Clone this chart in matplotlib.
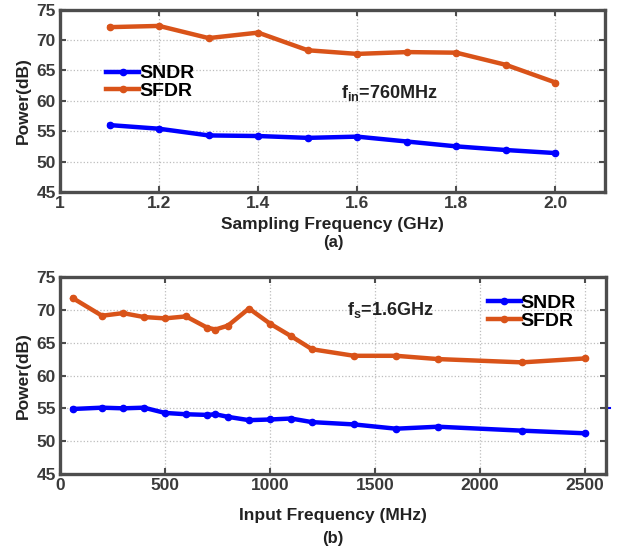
import matplotlib.pyplot as plt
import matplotlib.transforms as mtransforms

plt.rcParams['font.family'] = ['Liberation Sans', 'DejaVu Sans']
plt.rcParams['mathtext.fontset'] = 'custom'
plt.rcParams['mathtext.rm'] = 'Liberation Sans:bold'
plt.rcParams['mathtext.it'] = 'Liberation Sans:bold'

# (a) sweep of sampling frequency, fin = 760 MHz
fs_ghz = [1.1, 1.2, 1.3, 1.4, 1.5, 1.6, 1.7, 1.8, 1.9, 2.0]
sndr_a = [56.0, 55.4, 54.3, 54.2, 53.9, 54.1, 53.3, 52.5, 51.9, 51.4]
sfdr_a = [72.1, 72.3, 70.3, 71.2, 68.3, 67.7, 68.0, 67.9, 65.9, 63.0]

# (b) sweep of input frequency, fs = 1.6 GHz
fin_mhz = [60, 200, 300, 400, 500, 600, 700, 740, 800, 900, 1000, 1100,
           1200, 1400, 1600, 1800, 2200, 2500]
sndr_b = [54.9, 55.1, 55.0, 55.1, 54.3, 54.1, 54.0, 54.1, 53.7, 53.2, 53.3,
          53.45, 52.9, 52.55, 51.9, 52.2, 51.6, 51.2]
sfdr_b = [71.8, 69.1, 69.5, 68.9, 68.7, 69.0, 67.3, 67.0, 67.6, 70.2, 67.9,
          66.0, 64.0, 63.0, 63.0, 62.5, 62.0, 62.6]

yticks = [45, 50, 55, 60, 65, 70, 75]
xticks_a = [1.0, 1.2, 1.4, 1.6, 1.8, 2.0]
xticklabels_a = ['1', '1.2', '1.4', '1.6', '1.8', '2.0']
xticks_b = [0, 500, 1000, 1500, 2000, 2500]

BLUE = '#0000FF'
ORANGE = '#D95319'
SPINE = '#4d4d4d'
TICKC = '#3a3a3a'

fig = plt.figure(figsize=(6.24, 5.48), dpi=100)
ax1 = fig.add_axes([60 / 624, 1 - 192 / 548, 545 / 624, 182.5 / 548])
ax2 = fig.add_axes([60 / 624, 1 - 474 / 548, 546 / 624, 197 / 548])


def style_axes(ax):
    for s in ax.spines.values():
        s.set_color(SPINE)
        s.set_linewidth(2.4)
    ax.tick_params(direction='in', length=4, width=1.5, color=SPINE,
                   top=True, right=True, labelcolor=TICKC, pad=3)
    for lab in ax.get_xticklabels() + ax.get_yticklabels():
        lab.set_fontweight('bold')
        lab.set_fontsize(12.5)
    ax.grid(True, linestyle=':', color='#bdbdbd', linewidth=0.9)
    ax.set_axisbelow(True)
    ax.set_ylim(45, 75)
    ax.set_ylabel('Power(dB)', fontsize=12.5, fontweight='bold',
                  color='#222222', labelpad=4)


line_kw = dict(linewidth=3.2, marker='o', markersize=4.5, solid_joinstyle='round')

# ---- panel (a)
ax1.plot(fs_ghz, sndr_a, color=BLUE, label='SNDR', **line_kw)
ax1.plot(fs_ghz, sfdr_a, color=ORANGE, label='SFDR', **line_kw)
ax1.set_xlim(1.0, 2.1)
ax1.set_xticks(xticks_a)
ax1.set_xticklabels(xticklabels_a)
ax1.set_yticks(yticks)
style_axes(ax1)
ax1.set_xlabel('Sampling Frequency (GHz)', fontsize=12.5, fontweight='bold',
               color='#222222', labelpad=4)
ax1.legend(loc='center left', bbox_to_anchor=(0.085, 0.6), frameon=False,
           handlelength=1.7, handletextpad=0.0, labelspacing=0.0,
           borderpad=0, borderaxespad=0, prop={'weight': 'bold', 'size': 14})
ax1.text(0.515, 0.545, r'$\mathrm{f_{in}}$=760MHz', transform=ax1.transAxes,
         fontsize=13, fontweight='bold', color='#222222', va='center')
fig.text(333 / 624, 1 - 242 / 548, '(a)', ha='center', va='center',
         fontsize=12, fontweight='bold', color='#222222')

# ---- panel (b)
ax2.plot(fin_mhz, sndr_b, color=BLUE, label='SNDR', **line_kw)
ax2.plot(fin_mhz, sfdr_b, color=ORANGE, label='SFDR', **line_kw)
ax2.set_xlim(0, 2600)
ax2.set_xticks(xticks_b)
ax2.set_yticks(yticks)
style_axes(ax2)
ax2.set_xlabel('Input Frequency (MHz)', fontsize=12.5, fontweight='bold',
               color='#222222', labelpad=11)
ax2.legend(loc='center left', bbox_to_anchor=(0.783, 0.822), frameon=False,
           handlelength=1.7, handletextpad=0.0, labelspacing=0.0,
           borderpad=0, borderaxespad=0, prop={'weight': 'bold', 'size': 14})
ax2.text(0.525, 0.83, r'$\mathrm{f_{s}}$=1.6GHz', transform=ax2.transAxes,
         fontsize=13, fontweight='bold', color='#222222', va='center')
# small stray blue tick on the right spine
trans = mtransforms.blended_transform_factory(ax2.transAxes, ax2.transData)
ax2.plot([1.0, 1.008], [55, 55], color=BLUE, linewidth=1.5, transform=trans,
         clip_on=False)
fig.text(333 / 624, 1 - 538 / 548, '(b)', ha='center', va='center',
         fontsize=12, fontweight='bold', color='#222222')

fig.savefig('out.png', dpi=100, facecolor='white')
